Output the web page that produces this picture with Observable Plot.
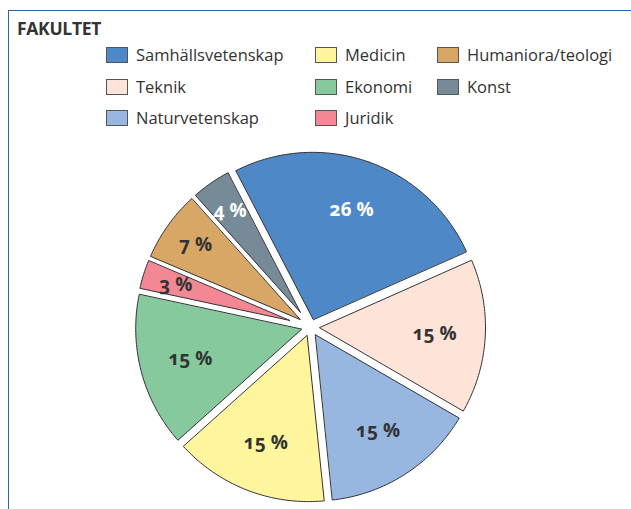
<!DOCTYPE html>
<html><head><meta charset="utf-8">
<script src="https://cdn.jsdelivr.net/npm/d3@7"></script>
<script src="https://cdn.jsdelivr.net/npm/@observablehq/plot@0.6"></script>
<style>
body{margin:0;background:#fff;font-family:"Open Sans",sans-serif;}
#frame{position:absolute;left:8px;top:10px;width:640px;height:520px;border-top:1.5px solid #2a66a8;border-left:1.5px solid #2a66a8;}
#title{position:absolute;left:17px;top:20px;font-size:17.5px;line-height:17px;font-weight:700;color:#333;letter-spacing:-0.3px;}
#legend{position:absolute;left:106px;top:47px;display:grid;grid-template-columns:209px 122px auto;grid-template-rows:repeat(3,31.5px);grid-auto-flow:column;}
.item{display:flex;align-items:flex-start;font-size:16.5px;line-height:16px;color:#333;white-space:nowrap;}
.sw{width:20px;height:14px;border:1px solid #555;margin-right:8px;flex:none;}
#chart{position:absolute;left:0;top:140px;}
#chart text{font-variant-numeric:oldstyle-nums;}
</style></head><body>
<div id="frame"></div>
<div id="title">FAKULTET</div>
<div id="legend"></div>
<div id="chart"></div>
<script>
const faculties = ["Samhällsvetenskap","Teknik","Naturvetenskap","Medicin","Ekonomi","Juridik","Humaniora/teologi","Konst"];
const shares = [26,15,15,15,15,3,7,4];
const colors = ["#4f88c6","#fee4d8","#97b6e0","#fff59c","#85c99c","#f38794","#d8a766","#778a97"];
const labels = shares.map(v => `${v} %`);

// legend (column-major, same order as the slices)
const legend = document.getElementById("legend");
faculties.forEach((f, i) => {
  const it = document.createElement("div");
  it.className = "item";
  const sw = document.createElement("span");
  sw.className = "sw";
  sw.style.background = colors[i];
  it.appendChild(sw);
  it.appendChild(document.createTextNode(f));
  legend.appendChild(it);
});

// pie geometry (data units = pixels relative to the pie centre)
const R = 169, explode = 6, halfGap = 1.5, startDeg = -27.5;
const a0 = startDeg * Math.PI / 180;
const arcs = d3.pie().value(d => d).sort(null).startAngle(a0).endAngle(a0 + 2 * Math.PI)(shares);

const pts = [];
const labelRows = [];
arcs.forEach((a, i) => {
  const m = (a.startAngle + a.endAngle) / 2;
  const half = (a.endAngle - a.startAngle) / 2;
  const ox = explode * Math.sin(m), oy = explode * Math.cos(m);
  const apex = halfGap / Math.sin(half);
  pts.push({name: faculties[i], x: ox + apex * Math.sin(m), y: oy + apex * Math.cos(m)});
  const p = Math.asin(halfGap / R);
  const b0 = a.startAngle + p, b1 = a.endAngle - p;
  const n = Math.max(2, Math.ceil((b1 - b0) / (Math.PI / 180)));
  for (let k = 0; k <= n; k++) {
    const t = b0 + (b1 - b0) * k / n;
    pts.push({name: faculties[i], x: ox + R * Math.sin(t), y: oy + R * Math.cos(t)});
  }
  const rl = explode + R * (shares[i] >= 10 ? 0.70 : 0.80);
  const light = d3.hsl(colors[i]).l < 0.58;
  labelRows.push({label: labels[i], x: rl * Math.sin(m), y: rl * Math.cos(m), light});
});

const W = 631, H = 369, cx = 310, cy = 186.5;
const chart = Plot.plot({
  width: W, height: H, margin: 0,
  x: {domain: [-cx, W - cx], axis: null},
  y: {domain: [-(H - cy), cy], axis: null},
  color: {domain: faculties, range: colors},
  marks: [
    Plot.line(pts, {x: "x", y: "y", z: "name", fill: "name", stroke: "#333", strokeWidth: 1, curve: "linear-closed"}),
    Plot.text(labelRows.filter(d => d.light), {x: "x", y: "y", text: "label", fill: "white", fontSize: 19, fontWeight: 700, fontFamily: "Open Sans"}),
    Plot.text(labelRows.filter(d => !d.light), {x: "x", y: "y", text: "label", fill: "#333", fontSize: 19, fontWeight: 700, fontFamily: "Open Sans"})
  ]
});
document.getElementById("chart").appendChild(chart);
</script>
</body></html>
